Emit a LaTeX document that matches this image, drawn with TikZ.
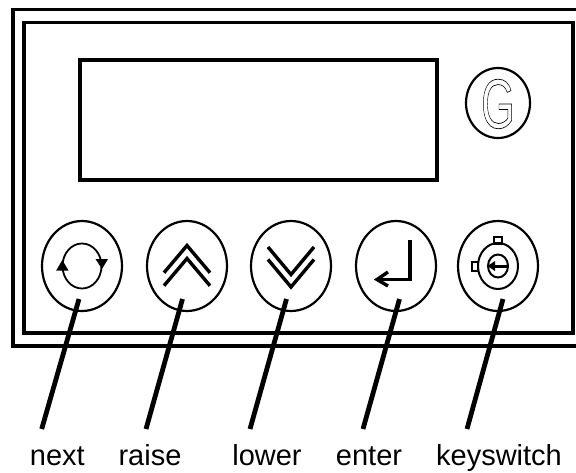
\documentclass[tikz,border=0pt]{standalone}
\usepackage{fontspec}
\setmainfont{Liberation Sans}
\usetikzlibrary{shapes.geometric}
\tikzset{
  px/.style={x=1pt,y=-1pt},
  panel/.style={line width=3.4pt,miter limit=10},
  btn/.style={ellipse,draw,line width=2.2pt,minimum width=80pt,minimum height=90pt,inner sep=0pt},
  leader/.style={line width=4.8pt},
  sym/.style={line width=3.4pt},
  thin sym/.style={line width=1.8pt},
  lbl/.style={font=\fontsize{29pt}{32pt}\selectfont,anchor=base,inner sep=0pt}
}
\begin{document}
\begin{tikzpicture}[px]
\useasboundingbox (0,0) rectangle (576,472);
\fill[white] (0,0) rectangle (576,472);
% panel
\draw[panel] (576,9.5) -- (13,9.5) -- (13,346) -- (576,346);
\draw[panel] (24,22.5) rectangle (573,333);
\node[draw,line width=3.4pt,minimum width=357pt,minimum height=120pt,inner sep=0pt] (display) at (258.5,120) {};
% G
\node[ellipse,draw,line width=2.2pt,minimum width=64pt,minimum height=70pt,inner sep=0pt] (gbtn) at (498,103) {};
\node[xscale=.62,inner sep=0pt,font=\fontsize{70pt}{70pt}\selectfont] (gmark) at (498,104) {\special{pdf:code q 1 Tr 0.7 w}G\special{pdf:code Q}};
% buttons
\node[btn] (next) at (82,266) {};
\node[btn] (raise) at (187,266) {};
\node[btn] (lower) at (291,266) {};
\node[btn] (enter) at (396,266) {};
\node[btn] (key) at (498,266) {};
% next symbol
\draw[thin sym] (82,266) ellipse [x radius=19.5,y radius=22.5];
\fill (62.3,260) -- (68.5,270.5) -- (56.2,270.5) -- cycle;
\fill (102,269) -- (95.5,259) -- (108,259) -- cycle;
% raise
\draw[sym] (164,272.7) -- (187,245.5) -- (210,272.7);
\draw[sym] (164,285.7) -- (187,258.5) -- (210,285.7);
% lower
\draw[sym] (268,247) -- (291,274.5) -- (314,247);
\draw[sym] (268,259.5) -- (291,287) -- (314,259.5);
% enter
\draw[sym,miter limit=10] (410,240) -- (410,279.5) -- (378,279.5);
\draw[sym] (388,272) -- (377,279.5) -- (388,286);
% keyswitch
\draw[line width=2pt] (498,266) ellipse [x radius=20,y radius=23];
\draw[line width=2pt] (498,266) ellipse [x radius=10,y radius=11.5];
\draw[line width=2.6pt] (494,237) rectangle (502,243.5);
\draw[line width=2.6pt] (472,262) rectangle (478,271);
\draw[line width=3pt] (507,266) -- (493,266);
\fill (487.5,266) -- (495,261) -- (495,271) -- cycle;
% labels
\node[lbl] (lnext) at (57.4,465) {next};
\node[lbl] (lraise) at (150,465) {raise};
\node[lbl] (llower) at (267,465) {lower};
\node[lbl] (lenter) at (369,465) {enter};
\node[lbl] (lkey) at (499,465) {keyswitch};
% leaders
\coordinate (a1) at (79,299); \coordinate (b1) at (41.7,429);
\coordinate (a2) at (182.5,299); \coordinate (b2) at (146,429);
\coordinate (a3) at (286.5,299); \coordinate (b3) at (250,429);
\coordinate (a4) at (399.5,299); \coordinate (b4) at (363,429);
\coordinate (a5) at (503,299); \coordinate (b5) at (467,429);
\foreach \i in {1,...,5} \draw[leader] (a\i) -- (b\i);
\end{tikzpicture}
\end{document}
